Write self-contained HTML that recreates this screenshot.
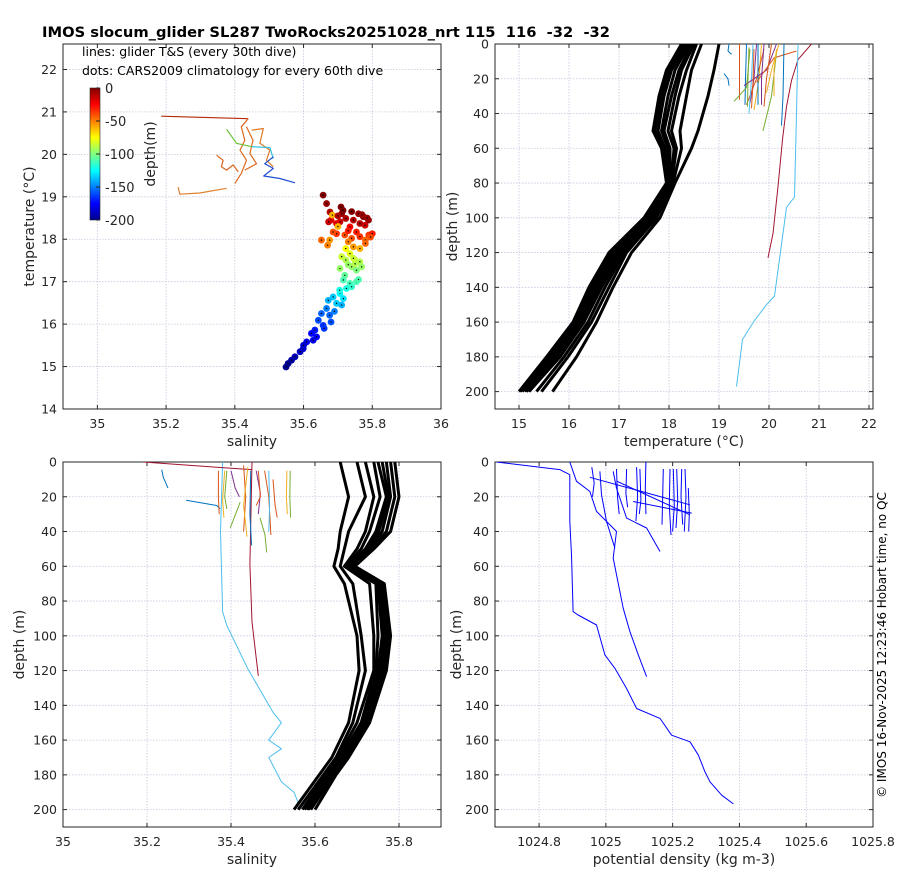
<!DOCTYPE html>
<html><head><meta charset="utf-8"><style>
html,body{margin:0;padding:0;background:#fff;}
svg{display:block;font-family:"DejaVu Sans","Liberation Sans",sans-serif;}
</style></head><body>
<svg id="fig" width="900" height="880" viewBox="0 0 900 880" xmlns="http://www.w3.org/2000/svg">
<defs><linearGradient id="jet" x1="0" y1="1" x2="0" y2="0">
<stop offset="0" stop-color="#00008f"/><stop offset="0.125" stop-color="#0000ff"/><stop offset="0.375" stop-color="#00ffff"/><stop offset="0.625" stop-color="#ffff00"/><stop offset="0.875" stop-color="#ff0000"/><stop offset="1" stop-color="#800000"/></linearGradient></defs>
<rect width="900" height="880" fill="#fff"/>
<text x="42" y="37" font-size="14" font-weight="bold" fill="#000" style="white-space:pre" textLength="568" lengthAdjust="spacingAndGlyphs">IMOS slocum_glider SL287 TwoRocks20251028_nrt 115  116  -32  -32</text>
<text transform="translate(886,645) rotate(-90)" text-anchor="middle" font-size="12" fill="#000">© IMOS 16-Nov-2025 12:23:46 Hobart time, no QC</text>
</svg>
<script>
// ---------- data ----------
const dotSal=[35.657,35.667,35.677,35.68,35.709,35.711,35.706,35.673,35.696,35.74,35.745,35.735,35.774,35.789,35.764,35.779,35.754,35.723,
35.652,35.67,35.696,35.72,35.74,35.764,35.79,35.80,35.78,35.745,35.764,35.73,35.686,35.676,35.684,35.70,
35.723,35.735,35.711,35.75,35.764,35.723,35.74,35.706,35.769,35.754,35.72,
35.716,35.735,35.754,35.725,35.74,35.706,35.716,35.696,35.686,35.711,35.672,
35.667,35.652,35.676,35.643,35.657,35.633,35.638,35.623,
35.609,35.599,35.59,35.575,35.565,35.555,35.549,35.60,35.628,
35.77,35.785,35.76,35.715,35.70,35.73,35.795,35.75,35.78,35.745,35.73,35.76,35.705,35.69,35.68,35.66];
const dotTemp=[19.04,18.84,18.64,18.45,18.76,18.6,18.41,18.41,18.37,18.65,18.45,18.29,18.53,18.45,18.37,18.33,18.17,18.49,
17.98,17.86,18.13,18.1,18.02,18.06,18.1,18.13,17.98,17.82,17.78,17.94,18.17,17.98,18.57,18.3,
17.78,17.66,17.59,17.51,17.47,17.51,17.35,17.31,17.35,17.27,17.15,
17.04,16.96,17.0,16.84,16.88,16.72,16.6,16.49,16.64,16.45,16.56,
16.37,16.25,16.21,16.09,15.97,15.86,15.7,15.78,
15.58,15.42,15.35,15.23,15.15,15.07,14.99,15.5,15.62,
18.58,18.5,18.6,18.68,18.55,18.2,18.05,17.42,17.9,17.55,17.4,17.05,16.8,16.3,16.05,15.9];
const dotDepth=[0,5,10,20,0,5,15,15,20,0,10,25,0,5,10,15,30,10,
45,50,35,40,40,35,35,30,45,55,60,50,40,55,60,60,
75,80,85,85,90,90,95,95,95,100,105,
110,110,110,120,115,125,130,135,135,140,140,
150,155,155,160,165,170,175,175,
180,185,188,192,195,198,200,185,180,
5,5,5,0,10,30,40,90,45,85,95,110,120,150,160,165];
const tsLines=[
 {c:"#b22a0a",s:[35.186,35.439],t:[20.90,20.84]},
 {c:"#dd6a1f",s:[35.439,35.419,35.429,35.415,35.434,35.419,35.40],t:[20.84,20.65,20.33,20.10,19.86,19.55,19.31]},
 {c:"#e07a25",s:[35.449,35.483,35.473,35.502,35.492,35.512],t:[20.57,20.61,20.26,20.10,19.86,19.71]},
 {c:"#d9661c",s:[35.347,35.366,35.361,35.376,35.395,35.41],t:[19.98,19.86,19.71,19.63,19.75,19.59]},
 {c:"#e08030",s:[35.235,35.24,35.298,35.376],t:[19.23,19.06,19.09,19.20]},
 {c:"#dd6a1f",s:[35.434,35.453,35.444,35.463,35.429],t:[20.65,20.33,20.02,19.78,19.63]},
 {c:"#6ac33a",s:[35.376,35.405,35.449],t:[20.59,20.26,20.18]},
 {c:"#30c0e0",s:[35.449,35.502,35.512],t:[20.18,20.16,19.90]},
 {c:"#2050d0",s:[35.512,35.487,35.512,35.484,35.531,35.575],t:[19.94,19.78,19.67,19.49,19.43,19.33]}
];
const tDepths=[0,15,30,50,60,80,100,120,140,160,180,200];
const tProfiles=[
 [18.25,17.95,17.8,17.68,17.85,17.95,17.5,16.8,16.4,16.08,15.55,15.0],
 [18.3,18.0,17.85,17.72,17.88,17.96,17.52,16.85,16.45,16.1,15.58,15.03],
 [18.35,18.05,17.9,17.78,17.92,17.98,17.55,16.9,16.5,16.15,15.62,15.07],
 [18.4,18.12,17.98,17.85,17.98,18.0,17.6,16.95,16.55,16.2,15.68,15.12],
 [18.45,18.2,18.05,17.9,18.02,18.02,17.65,17.0,16.6,16.25,15.75,15.15],
 [18.5,18.25,18.12,17.98,18.1,18.05,17.7,17.05,16.65,16.3,15.82,15.2],
 [18.55,18.35,18.2,18.05,18.15,18.05,17.72,17.1,16.72,16.38,15.9,15.35],
 [18.65,18.45,18.35,18.22,18.25,18.08,17.75,17.15,16.8,16.45,15.98,15.45],
 [19.0,18.9,18.78,18.58,18.45,18.12,17.82,17.25,16.88,16.55,16.15,15.67]
];
const gTemp=[
 {c:"#a2142f",t:[20.85,20.58,20.45,20.35,20.27,20.18,20.08,19.98],d:[0,9,21,36,55,82,109,123]},
 {c:"#4dbeee",t:[20.58,20.55,20.51,20.35,20.11,19.95,19.71,19.47,19.35],d:[0,40,88,94,145,150,159,170,197]},
 {c:"#d95319",t:[19.41,19.41,19.41],d:[0,20,32]},
 {c:"#0072bd",t:[19.55,19.53,19.52],d:[0,20,35]},
 {c:"#77ac30",t:[19.62,19.55,19.3],d:[3,25,33]},
 {c:"#7e2f8e",t:[19.75,19.7,19.62],d:[0,20,34]},
 {c:"#edb120",t:[19.85,19.8,19.7],d:[0,20,38]},
 {c:"#d95319",t:[19.9,19.75,19.55],d:[3,20,35]},
 {c:"#0072bd",t:[19.78,19.78,19.78],d:[0,25,35]},
 {c:"#4dbeee",t:[19.68,19.65,19.6],d:[0,20,40]},
 {c:"#7e2f8e",t:[20.15,19.95,19.5],d:[0,15,24]},
 {c:"#d95319",t:[20.55,20.1,19.75],d:[4,8,22]},
 {c:"#77ac30",t:[20.15,20.05,19.88],d:[5,30,50]},
 {c:"#0072bd",t:[20.3,20.28,20.25],d:[0,30,47]},
 {c:"#edb120",t:[20.15,20.1,20.1],d:[3,15,30]},
 {c:"#d95319",t:[20.05,19.95,19.9],d:[0,20,36]},
 {c:"#0072bd",t:[19.2,19.18,19.25],d:[0,4,6]},
 {c:"#0072bd",t:[19.1,19.18,19.2],d:[17,20,24]},
 {c:"#7e2f8e",t:[19.9,19.85,19.85],d:[0,20,35]},
 {c:"#77ac30",t:[19.6,19.58,19.57],d:[2,20,36]},
 {c:"#d95319",t:[19.7,19.68,19.65],d:[3,22,37]},
 {c:"#edb120",t:[20.2,20.05,19.95],d:[0,15,28]}
];
const sDepths=[0,20,40,50,60,70,100,120,150,170,180,200];
const sProfiles=[
 [35.66,35.68,35.66,35.655,35.645,35.67,35.70,35.705,35.68,35.64,35.61,35.55],
 [35.70,35.72,35.68,35.67,35.66,35.69,35.71,35.72,35.69,35.65,35.62,35.56],
 [35.72,35.74,35.72,35.70,35.67,35.73,35.74,35.74,35.70,35.655,35.625,35.57],
 [35.74,35.755,35.73,35.71,35.675,35.745,35.75,35.745,35.71,35.66,35.63,35.575],
 [35.75,35.77,35.745,35.72,35.68,35.75,35.76,35.75,35.715,35.665,35.635,35.58],
 [35.76,35.775,35.752,35.725,35.682,35.752,35.765,35.755,35.718,35.668,35.638,35.582],
 [35.77,35.78,35.76,35.73,35.685,35.755,35.77,35.76,35.72,35.67,35.64,35.585],
 [35.78,35.79,35.77,35.735,35.69,35.76,35.775,35.765,35.725,35.675,35.645,35.59],
 [35.79,35.80,35.78,35.74,35.695,35.765,35.78,35.77,35.73,35.68,35.65,35.60]
];
const gSal=[
 {c:"#4dbeee",s:[35.38,35.375,35.38,35.39,35.44,35.50,35.52,35.49,35.52,35.49,35.52,35.55,35.56],d:[0,40,86,94,119,144,150,160,165,170,184,190,196]},
 {c:"#a2142f",s:[35.45,35.445,35.45,35.465],d:[0,59,92,123]},
 {c:"#a2142f",s:[35.191,35.366,35.449],d:[0,3,4.4]},
 {c:"#0072bd",s:[35.235,35.239,35.25],d:[4.4,9,15]},
 {c:"#0072bd",s:[35.293,35.366,35.374],d:[22,25,27]},
 {c:"#77ac30",s:[35.422,35.414,35.398],d:[23,28,38]},
 {c:"#77ac30",s:[35.469,35.481,35.485],d:[32,42,52]},
 {c:"#77ac30",s:[35.39,35.385,35.39],d:[5,20,27]},
 {c:"#d95319",s:[35.37,35.37,35.372],d:[5,20,30]},
 {c:"#edb120",s:[35.385,35.38,35.383],d:[5,22,32]},
 {c:"#7e2f8e",s:[35.40,35.41,35.42],d:[5,15,20]},
 {c:"#d95319",s:[35.43,35.435,35.43],d:[2,20,40]},
 {c:"#edb120",s:[35.44,35.43,35.438],d:[3,25,43]},
 {c:"#0072bd",s:[35.447,35.445,35.449],d:[5,30,48]},
 {c:"#7e2f8e",s:[35.46,35.47,35.465],d:[5,18,30]},
 {c:"#d95319",s:[35.48,35.49,35.495],d:[5,20,42]},
 {c:"#4dbeee",s:[35.49,35.492,35.49],d:[5,25,40]},
 {c:"#d95319",s:[35.50,35.505,35.51],d:[10,25,32]},
 {c:"#edb120",s:[35.533,35.532,35.534],d:[5,20,30]},
 {c:"#77ac30",s:[35.541,35.54,35.542],d:[5,20,32]},
 {c:"#d95319",s:[35.465,35.47,35.46],d:[5,20,25]}
];
const gDen=[
 {d:[0,4.4,7.3,34.2,53.4,86.1,88,93.8,111,118.7,130.3,141.8,147.5,157.2,161,168.7,178.3,184,191.7,196.7],r:[1024.672,1024.862,1024.892,1024.892,1024.897,1024.902,1024.917,1024.972,1024.997,1025.027,1025.062,1025.092,1025.162,1025.197,1025.252,1025.277,1025.297,1025.312,1025.347,1025.382]},
 {d:[0,11.1,16.9,28.4,34.2,40,55.3,84.1,97.6,111,123.5],r:[1024.892,1024.912,1024.952,1024.972,1025.002,1025.032,1025.022,1025.052,1025.072,1025.097,1025.122]},
 {d:[5.4,18.8,34.2,49.6],r:[1024.982,1024.987,1025.002,1025.027]},
 {d:[5.4,15,32.3,38,51.5],r:[1025.022,1025.032,1025.062,1025.122,1025.162]},
 {d:[8.8,24.6],r:[1024.952,1025.252]},
 {d:[11,30.4],r:[1025.032,1025.252]},
 {d:[22.7,29.4],r:[1025.082,1025.257]},
 {d:[4,20,30],r:[1025.032,1025.035,1025.04]},
 {d:[4,18,26],r:[1025.062,1025.06,1025.065]},
 {d:[3,20,34],r:[1025.092,1025.095,1025.09]},
 {d:[4,22,30],r:[1025.102,1025.105,1025.1]},
 {d:[4,22,36],r:[1025.172,1025.17,1025.168]},
 {d:[4,25,42],r:[1025.192,1025.19,1025.195]},
 {d:[4,25,40],r:[1025.202,1025.205,1025.2]},
 {d:[4,22,38],r:[1025.212,1025.215,1025.21]},
 {d:[4,20,36],r:[1025.227,1025.225,1025.23]},
 {d:[4,20,40],r:[1025.237,1025.24,1025.235]},
 {d:[15,30,40],r:[1025.247,1025.25,1025.248]},
 {d:[0,15,30],r:[1025.12,1025.118,1025.12]},
 {d:[3,12,20],r:[1024.958,1024.965,1024.96]}
];
// ---------- drawing ----------
const svg=document.getElementById('fig');
const NS="http://www.w3.org/2000/svg";
function mk(tag,attrs,parent){const e=document.createElementNS(NS,tag);for(const k in attrs)e.setAttribute(k,attrs[k]);(parent||svg).appendChild(e);return e;}
function lin(d0,d1,r0,r1){return v=>r0+(v-d0)/(d1-d0)*(r1-r0);}
function jet(v){
 const stops=[[0,[0,0,143]],[0.125,[0,0,255]],[0.375,[0,255,255]],[0.625,[255,255,0]],[0.875,[255,0,0]],[1,[128,0,0]]];
 for(let i=1;i<stops.length;i++){if(v<=stops[i][0]){const a=stops[i-1],b=stops[i],f=(v-a[0])/(b[0]-a[0]);return 'rgb('+a[1].map((c,j)=>Math.round(c+f*(b[1][j]-c))).join(',')+')';}}
 return 'rgb(128,0,0)';
}
function axes(cfg){
 const g=mk('g',{});
 
 
 const X=lin(cfg.xd[0],cfg.xd[1],cfg.x0,cfg.x1), Y=lin(cfg.yd[0],cfg.yd[1],cfg.y0,cfg.y1);
 cfg.xt.forEach(v=>{const x=X(v);
  const gl=mk('line',{x1:x,x2:x,y1:cfg.y0,y2:cfg.y1,stroke:'#c4c8dc','stroke-width':0.8,'stroke-dasharray':'1.5,1.5'},g);
  
  mk('line',{x1:x,x2:x,y1:cfg.y1,y2:cfg.y1-4,stroke:'#262626'},g);
  mk('line',{x1:x,x2:x,y1:cfg.y0,y2:cfg.y0+4,stroke:'#262626'},g);
  const t=mk('text',{x:x,y:cfg.y1+19,'text-anchor':'middle','font-size':12.5,fill:'#262626'},g);t.textContent=(+v.toFixed(2)).toString();
  });
 cfg.yt.forEach(v=>{const y=Y(v);
  const gl=mk('line',{x1:cfg.x0,x2:cfg.x1,y1:y,y2:y,stroke:'#c4c8dc','stroke-width':0.8,'stroke-dasharray':'1.5,1.5'},g);
  
  mk('line',{x1:cfg.x0,x2:cfg.x0+4,y1:y,y2:y,stroke:'#262626'},g);
  mk('line',{x1:cfg.x1,x2:cfg.x1-4,y1:y,y2:y,stroke:'#262626'},g);
  const t=mk('text',{x:cfg.x0-6,y:y+4.5,'text-anchor':'end','font-size':12.5,fill:'#262626'},g);t.textContent=v.toString();
  });
 const b=mk('rect',{x:cfg.x0,y:cfg.y0,width:cfg.x1-cfg.x0,height:cfg.y1-cfg.y0,fill:'none',stroke:'#262626','stroke-width':1},g);
 
 const xl=mk('text',{x:(cfg.x0+cfg.x1)/2,y:cfg.y1+37,'text-anchor':'middle','font-size':14,fill:'#262626'},g);xl.textContent=cfg.xl;
 
 const yl=mk('text',{transform:'translate('+cfg.ylx+','+(cfg.y0+cfg.y1)/2+') rotate(-90)','text-anchor':'middle','font-size':14,fill:'#262626'},g);yl.textContent=cfg.yl;
 
 const clip='c'+cfg.name;const cp=mk('clipPath',{id:clip},g);mk('rect',{x:cfg.x0,y:cfg.y0,width:cfg.x1-cfg.x0,height:cfg.y1-cfg.y0},cp);
 const plot=mk('g',{'clip-path':'url(#'+clip+')'},g);
 return {X,Y,plot};
}
function poly(p,xs,ys,X,Y,stroke,w,name){
 const pts=xs.map((v,i)=>X(v).toFixed(1)+','+Y(ys[i]).toFixed(1)).join(' ');
 const e=mk('polyline',{points:pts,fill:'none',stroke:stroke,'stroke-width':w,'stroke-linejoin':'round'},p);
 
 
 return e;
}
const r5=(a,b,s)=>{const o=[];for(let v=a;v<=b+1e-9;v+=s)o.push(+v.toFixed(2));return o;};
const A1=axes({name:'ts-diagram',x0:63,x1:441,y0:44,y1:409,xd:[34.9,36],yd:[22.6,14],xt:r5(35,36,0.2),yt:r5(14,22,1),xl:'salinity',yl:'temperature (°C)',ylx:34});
tsLines.forEach(l=>poly(A1.plot,l.s,l.t,A1.X,A1.Y,l.c,1.2,'glider-ts-line'));
dotSal.forEach((s,i)=>{const c=mk('circle',{cx:A1.X(s),cy:A1.Y(dotTemp[i]),r:3.4,fill:jet((200-dotDepth[i])/200)},A1.plot);
 
 mk('circle',{cx:A1.X(s),cy:A1.Y(dotTemp[i]),r:0.7,fill:'#000'},A1.plot);});
const note1=mk('text',{x:82,y:56,'font-size':12.5,fill:'#000'});note1.textContent='lines: glider T&S (every 30th dive)';

const note2=mk('text',{x:82,y:75,'font-size':12.5,fill:'#000'});note2.textContent='dots: CARS2009 climatology for every 60th dive';

const cb=mk('rect',{x:90,y:88,width:10,height:132,fill:'url(#jet)',stroke:'#262626','stroke-width':0.6});

const cbTicks=[0,-50,-100,-150,-200];
cbTicks.forEach(v=>{const y=88+(-v)/200*132;mk('line',{x1:96,x2:100,y1:y,y2:y,stroke:'#262626'});
 const t=mk('text',{x:105,y:y+5,'font-size':13,fill:'#262626'});t.textContent=v.toString();
 });
const cbl=mk('text',{transform:'translate(155,154) rotate(-90)','text-anchor':'middle','font-size':14,fill:'#262626'});cbl.textContent='depth(m)';

const A2=axes({name:'temperature-profile',x0:495,x1:873,y0:44,y1:409,xd:[14.52,22.08],yd:[0,210],xt:r5(15,22,1),yt:r5(0,200,20),xl:'temperature (°C)',yl:'depth (m)',ylx:457});
gTemp.forEach(l=>poly(A2.plot,l.t,l.d,A2.X,A2.Y,l.c,1,'glider-temp-line'));
tProfiles.forEach(p=>{poly(A2.plot,p,tDepths,A2.X,A2.Y,'#000',3,'cars-temp-profile');});
const A3=axes({name:'salinity-profile',x0:63,x1:441,y0:462,y1:827,xd:[35,35.9],yd:[0,210],xt:r5(35,35.8,0.2),yt:r5(0,200,20),xl:'salinity',yl:'depth (m)',ylx:24});
gSal.forEach(l=>poly(A3.plot,l.s,l.d,A3.X,A3.Y,l.c,1,'glider-salinity-line'));
sProfiles.forEach(p=>{poly(A3.plot,p,sDepths,A3.X,A3.Y,'#000',3,'cars-salinity-profile');});
const A4=axes({name:'density-profile',x0:495,x1:873,y0:462,y1:827,xd:[1024.668,1025.8],yd:[0,210],xt:r5(1024.8,1025.8,0.2),yt:r5(0,200,20),xl:'potential density (kg m-3)',yl:'depth (m)',ylx:461});
gDen.forEach(l=>poly(A4.plot,l.r,l.d,A4.X,A4.Y,'#0000ff',1,'glider-density-line'));
</script>
</body></html>
